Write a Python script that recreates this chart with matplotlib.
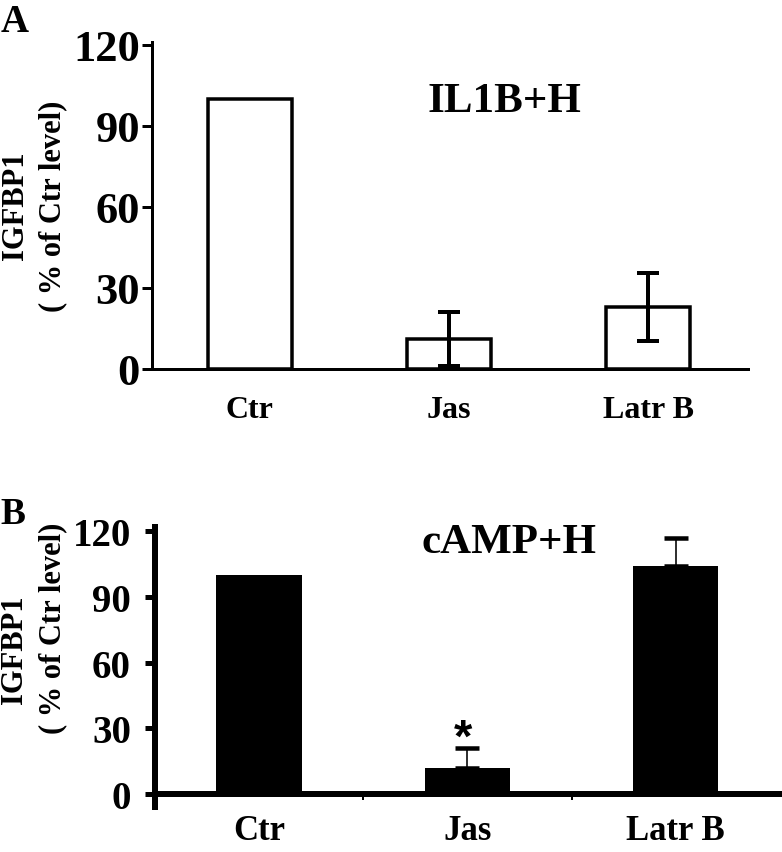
import numpy as np
import matplotlib
matplotlib.use("Agg")
import matplotlib.pyplot as plt

categories = ["Ctr", "Jas", "Latr B"]

# panel A: IL1B+H
a_values = [100, 11, 23]
a_errors = [0, 10, 12.5]

# panel B: cAMP+H
b_values = [100, 12, 104]
b_errors = [0, 9, 13]

y_ticks = [0, 30, 60, 90, 120]

W, H = 782, 853
fig = plt.figure(figsize=(W / 100, H / 100), dpi=100)

serif = ["Liberation Serif", "DejaVu Serif"]
PX = 0.72  # points per pixel

# ---------------- panel A ----------------
axA = fig.add_axes([152 / W, 1 - 370 / H, (748 - 152) / W, (370 - 43) / H])
x = np.arange(len(categories))
axA.bar(x, a_values, width=0.42, color="white", edgecolor="black", linewidth=3.5 * PX)
mask = np.array(a_errors) > 0
axA.errorbar(x[mask], np.array(a_values)[mask], yerr=np.array(a_errors)[mask],
             fmt="none", ecolor="black", elinewidth=4 * PX, capsize=8, capthick=4 * PX)
axA.set_xlim(-0.49, 2.5)
axA.set_ylim(0, 121)
axA.set_yticks(y_ticks)
axA.set_xticks(x)
axA.set_xticklabels(categories, family=serif, fontweight="bold", fontsize=23)
axA.set_yticklabels([str(t) for t in y_ticks], family=serif, fontweight="bold", fontsize=32)
for s in ["top", "right"]:
    axA.spines[s].set_visible(False)
for s in ["left", "bottom"]:
    axA.spines[s].set_linewidth(3 * PX)
axA.tick_params(axis="y", direction="out", length=10 * PX, width=3 * PX, pad=2 * PX)
axA.tick_params(axis="x", length=0, pad=26 * PX)
axA.text(1.28, 99, "IL1B+H", ha="center", va="center", family=serif,
         fontweight="bold", fontsize=31)

fig.text(34 / W, 1 - 206 / H, "IGFBP1\n( % of Ctr level)", rotation=90, ha="center",
         va="center", multialignment="center", family=serif, fontweight="bold",
         fontsize=22, linespacing=1.4)
fig.text(1 / W, 1 - 4 / H, "A", ha="left", va="top", family=serif,
         fontweight="bold", fontsize=28)

# ---------------- panel B ----------------
axB = fig.add_axes([155 / W, 1 - 808 / H, (782 - 155) / W, (808 - 528) / H])
axB.bar(x, b_values, width=0.41, color="black", edgecolor="none")
mask = np.array(b_errors) > 0
axB.errorbar(x[mask], np.array(b_values)[mask],
             yerr=[np.zeros(mask.sum()), np.array(b_errors)[mask]],
             fmt="none", ecolor="black", elinewidth=1.6 * PX, capsize=8.3, capthick=4.5 * PX)
axB.set_xlim(-0.5, 2.51)
axB.set_ylim(-6, 122)
axB.spines["bottom"].set_position(("data", 0))
axB.set_yticks(y_ticks)
axB.set_xticks(x)
axB.set_xticks([0.5, 1.5], minor=True)
axB.set_xticklabels(categories, family=serif, fontweight="bold", fontsize=25)
axB.set_yticklabels([str(t) for t in y_ticks], family=serif, fontweight="bold",
                    fontsize=28)
for s in ["top", "right"]:
    axB.spines[s].set_visible(False)
for s in ["left", "bottom"]:
    axB.spines[s].set_linewidth(6 * PX)
axB.tick_params(axis="y", direction="out", length=10 * PX, width=5 * PX, pad=14 * PX)
axB.tick_params(axis="x", which="major", length=0, pad=20 * PX)
axB.tick_params(axis="x", which="minor", direction="out", length=6 * PX, width=2 * PX)
axB.text(1.2, 115, "cAMP+H", ha="center", va="center", family=serif,
         fontweight="bold", fontsize=31)
axB.text(0.98, 25, "*", ha="center", va="center", family=["Liberation Sans", "DejaVu Sans"],
         fontweight="bold", fontsize=34)

fig.text(15 / W, 1 - 650 / H, "IGFBP1", rotation=90, ha="center", va="center",
         family=serif, fontweight="bold", fontsize=22)
fig.text(53 / W, 1 - 628 / H, "( % of Ctr level)", rotation=90, ha="center",
         va="center", family=serif, fontweight="bold", fontsize=22)
fig.text(0 / W, 1 - 497 / H, "B", ha="left", va="top", family=serif,
         fontweight="bold", fontsize=27)

fig.savefig("out.png", dpi=100)
